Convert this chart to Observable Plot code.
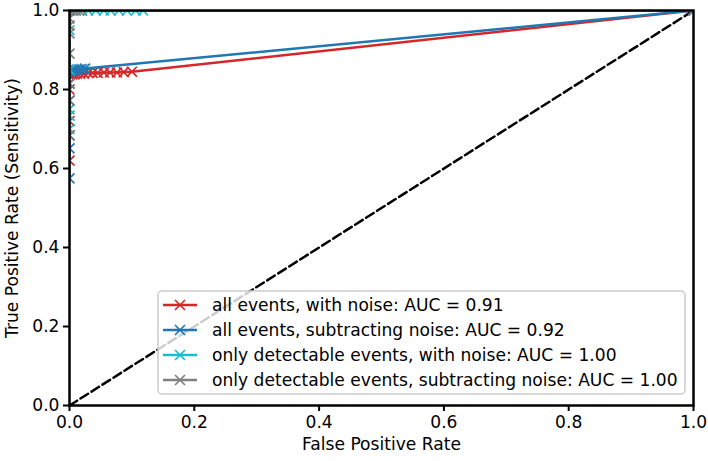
<!DOCTYPE html>
<html>
<head>
<meta charset="utf-8">
<script src="https://cdn.jsdelivr.net/npm/d3@7"></script>
<script src="https://cdn.jsdelivr.net/npm/@observablehq/plot@0.6"></script>
<style>
  html, body { margin: 0; padding: 0; background: white; }
  #chart svg { display: block; }
</style>
</head>
<body>
<div id="chart"></div>
<script>
// ---- data ----
const seriesNames = [
  "all events, with noise: AUC = 0.91",
  "all events, subtracting noise: AUC = 0.92",
  "only detectable events, with noise: AUC = 1.00",
  "only detectable events, subtracting noise: AUC = 1.00"
];
const seriesColors = ["#d62728", "#1f77b4", "#17becf", "#7f7f7f"];

const redFpr  = [0, 0, 0, 0, 0.004, 0.008, 0.012, 0.017, 0.023, 0.030, 0.037, 0.045, 0.055, 0.065, 0.076, 0.087, 0.100, 1];
const redTpr  = [0.62, 0.72, 0.80, 0.836, 0.838, 0.838, 0.840, 0.840, 0.840, 0.842, 0.842, 0.842, 0.843, 0.843, 0.843, 0.844, 0.845, 1];

const blueFpr = [0, 0, 0, 0, 0, 0, 0.003, 0.006, 0.009, 0.012, 0.016, 0.020, 0.025, 1];
const blueTpr = [0.575, 0.651, 0.684, 0.772, 0.815, 0.845, 0.846, 0.848, 0.849, 0.850, 0.851, 0.852, 0.853, 1];

const cyanFpr = [0, 0, 0, 0, 0, 0, 0.005, 0.010, 0.020, 0.030, 0.042, 0.055, 0.066, 0.079, 0.092, 0.106, 0.118, 1];
const cyanTpr = [0.70, 0.734, 0.750, 0.850, 0.950, 1, 1, 1, 1, 1, 1, 1, 1, 1, 1, 1, 1, 1];

const grayFpr = [0, 0, 0, 0, 0, 0, 0, 0, 0.005, 0.010, 0.015, 0.020, 1];
const grayTpr = [0.684, 0.772, 0.815, 0.891, 0.942, 0.962, 0.980, 1, 1, 1, 1, 1, 1];

const chanceFpr = [0, 1];
const chanceTpr = [0, 1];

const xTicks = [0, 0.2, 0.4, 0.6, 0.8, 1.0];
const yTicks = [0, 0.2, 0.4, 0.6, 0.8, 1.0];

// ---- build tables ----
const allFpr = [redFpr, blueFpr, cyanFpr, grayFpr];
const allTpr = [redTpr, blueTpr, cyanTpr, grayTpr];
const series = seriesNames.map((name, i) =>
  allFpr[i].map((x, j) => ({x, y: allTpr[i][j], name, color: seriesColors[i]}))
);
const chance = chanceFpr.map((x, j) => ({x, y: chanceTpr[j]}));

const FONT = "17.1px";
const marks = [
  Plot.line(chance, {x: "x", y: "y", stroke: "black", strokeWidth: 2.5, strokeDasharray: "9,4"})
];
series.forEach(s => {
  marks.push(Plot.line(s, {x: "x", y: "y", stroke: s[0].color, strokeWidth: 2.5, clip: true}));
  marks.push(Plot.dot(s, {x: "x", y: "y", symbol: "times", r: 4.6, stroke: s[0].color, strokeWidth: 1.7, clip: true}));
});
marks.push(
  Plot.axisX({ticks: xTicks, tickFormat: d => d.toFixed(1), tickSize: 6, tickPadding: 4, strokeWidth: 2,
    fontSize: FONT, label: "False Positive Rate", labelAnchor: "center", labelArrow: "none", labelOffset: 44}),
  Plot.axisY({ticks: yTicks, tickFormat: d => d.toFixed(1), tickSize: 6, tickPadding: 4, strokeWidth: 2,
    fontSize: FONT, label: "True Positive Rate (Sensitivity)", labelAnchor: "center", labelArrow: "none", labelOffset: 64}),
  Plot.frame({stroke: "black", strokeWidth: 2.5})
);

const chart = Plot.plot({
  width: 708, height: 461,
  marginLeft: 69, marginRight: 15, marginTop: 10, marginBottom: 56,
  x: {domain: [0, 1]},
  y: {domain: [0, 1]},
  style: {fontFamily: "'DejaVu Sans', sans-serif", fontSize: FONT, color: "black", background: "white"},
  marks
});
document.getElementById("chart").appendChild(chart);

// ---- legend (matplotlib-style, inside the axes, lower right) ----
const svg = d3.select(chart);
const lg = svg.append("g")
  .attr("font-family", "'DejaVu Sans', sans-serif")
  .attr("font-size", FONT)
  .attr("text-anchor", "start");
const box = {x: 158, y: 291, w: 527, h: 103};
lg.append("rect").attr("x", box.x).attr("y", box.y).attr("width", box.w).attr("height", box.h)
  .attr("rx", 4).attr("fill", "white").attr("fill-opacity", 0.8).attr("stroke", "#cccccc").attr("stroke-width", 1.5);
seriesNames.forEach((name, i) => {
  const cy = 305 + i * 25;
  lg.append("line").attr("x1", 163).attr("x2", 197).attr("y1", cy).attr("y2", cy)
    .attr("stroke", seriesColors[i]).attr("stroke-width", 2.5);
  lg.append("path").attr("d", d3.symbol(d3.symbolTimes, Math.PI * 4.6 * 4.6)())
    .attr("transform", `translate(180,${cy})`).attr("fill", "none")
    .attr("stroke", seriesColors[i]).attr("stroke-width", 1.7);
  lg.append("text").attr("x", 212).attr("y", cy).attr("dy", "0.35em")
    .attr("text-anchor", "start").attr("fill", "black").text(name);
});
</script>
</body>
</html>
